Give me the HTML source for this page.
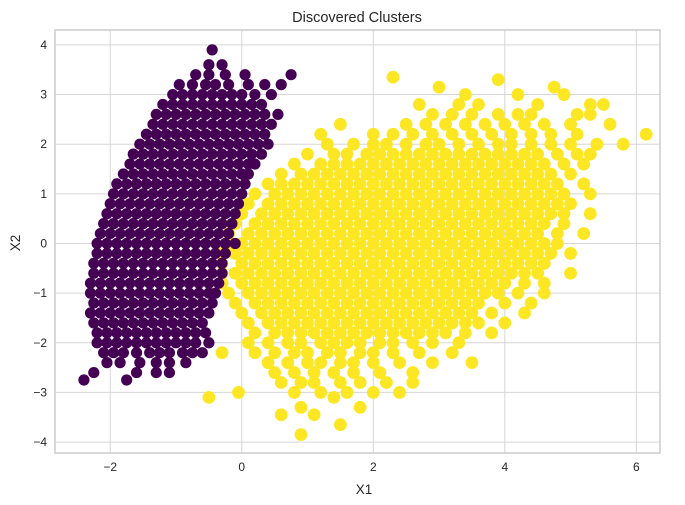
<!DOCTYPE html>
<html><head><meta charset="utf-8"><style>
body{margin:0;background:#fff;}
svg{display:block;font-family:"Liberation Sans",sans-serif;}
</style></head><body>
<svg id="chart" width="685" height="505">
<rect x="0" y="0" width="685" height="505" fill="#fff"/>
<text x="357" y="22" text-anchor="middle" font-size="14.5" fill="#262626">Discovered Clusters</text>
<text x="364" y="494" text-anchor="middle" font-size="13.5" fill="#262626">X1</text>
<text x="20" y="243" text-anchor="middle" font-size="13.5" fill="#262626" transform="rotate(-90 20 243)">X2</text>
<g id="grid"></g><g id="ticks"></g><g id="pts"></g>
<rect x="55" y="30" width="605" height="423" fill="none" stroke="#ccc" stroke-width="1.5"/>
</svg>
<script>
const xTicks=[-2,0,2,4,6];
const yTicks=[-4,-3,-2,-1,0,1,2,3,4];
const purpleRowY=[3.9,3.6,3.4,3.2,3.0,2.8,2.6,2.4,2.2,2.0,1.8,1.6,1.4,1.2,1.0,0.8,0.6,0.4,0.2,0.0,-0.2,-0.4,-0.6,-0.8,-1.0,-1.2,-1.4,-1.6,-1.8,-2.0,-2.2,-2.4,-2.6,-2.75];
const purpleRowX=[
[-0.45],
[-0.5,-0.3],
[-0.7,-0.5,-0.25,0.05,0.75],
[-0.95,-0.75,-0.55,-0.4,-0.2,0.1,0.35,0.6],
[-1.05,-0.9,-0.75,-0.6,-0.45,-0.3,-0.15,0,0.2,0.45],
[-1.2,-1.05,-0.9,-0.75,-0.6,-0.45,-0.3,-0.15,0,0.15,0.3],
[-1.3,-1.15,-1.0,-0.85,-0.7,-0.55,-0.4,-0.25,-0.1,0.05,0.2,0.35,0.55],
[-1.35,-1.2,-1.05,-0.9,-0.75,-0.6,-0.45,-0.3,-0.15,0,0.15,0.3,0.45],
[-1.45,-1.3,-1.15,-1.0,-0.85,-0.7,-0.55,-0.4,-0.25,-0.1,0.05,0.2,0.35],
[-1.55,-1.4,-1.25,-1.1,-0.95,-0.8,-0.65,-0.5,-0.35,-0.2,-0.05,0.1,0.25,0.4],
[-1.65,-1.5,-1.35,-1.2,-1.05,-0.9,-0.75,-0.6,-0.45,-0.3,-0.15,0,0.15,0.3],
[-1.7,-1.55,-1.4,-1.25,-1.1,-0.95,-0.8,-0.65,-0.5,-0.35,-0.2,-0.05,0.1,0.2],
[-1.8,-1.65,-1.5,-1.35,-1.2,-1.05,-0.9,-0.75,-0.6,-0.45,-0.3,-0.15,0,0.1],
[-1.9,-1.75,-1.6,-1.45,-1.3,-1.15,-1.0,-0.85,-0.7,-0.55,-0.4,-0.25,-0.1,0.05],
[-1.95,-1.8,-1.65,-1.5,-1.35,-1.2,-1.05,-0.9,-0.75,-0.6,-0.45,-0.3,-0.15,0],
[-2.0,-1.85,-1.7,-1.55,-1.4,-1.25,-1.1,-0.95,-0.8,-0.65,-0.5,-0.35,-0.2,-0.05],
[-2.05,-1.9,-1.75,-1.6,-1.45,-1.3,-1.15,-1.0,-0.85,-0.7,-0.55,-0.4,-0.25,-0.1],
[-2.1,-1.95,-1.8,-1.65,-1.5,-1.35,-1.2,-1.05,-0.9,-0.75,-0.6,-0.45,-0.3,-0.15],
[-2.15,-2.0,-1.85,-1.7,-1.55,-1.4,-1.25,-1.1,-0.95,-0.8,-0.65,-0.5,-0.35,-0.2],
[-2.2,-2.05,-1.9,-1.75,-1.6,-1.45,-1.3,-1.15,-1.0,-0.85,-0.7,-0.55,-0.4,-0.25,-0.1],
[-2.2,-2.05,-1.9,-1.75,-1.6,-1.45,-1.3,-1.15,-1.0,-0.85,-0.7,-0.55,-0.4,-0.25],
[-2.25,-2.1,-1.95,-1.8,-1.65,-1.5,-1.35,-1.2,-1.05,-0.9,-0.75,-0.6,-0.45,-0.3],
[-2.25,-2.1,-1.95,-1.8,-1.65,-1.5,-1.35,-1.2,-1.05,-0.9,-0.75,-0.6,-0.45,-0.3],
[-2.3,-2.15,-2.0,-1.85,-1.7,-1.55,-1.4,-1.25,-1.1,-0.95,-0.8,-0.65,-0.5,-0.35],
[-2.3,-2.15,-2.0,-1.85,-1.7,-1.55,-1.4,-1.25,-1.1,-0.95,-0.8,-0.65,-0.5,-0.4],
[-2.25,-2.1,-1.95,-1.8,-1.65,-1.5,-1.35,-1.2,-1.05,-0.9,-0.75,-0.6,-0.45],
[-2.3,-2.15,-2.0,-1.85,-1.7,-1.55,-1.4,-1.25,-1.1,-0.95,-0.8,-0.65,-0.5],
[-2.25,-2.1,-1.95,-1.8,-1.65,-1.5,-1.35,-1.2,-1.05,-0.9,-0.75,-0.6],
[-2.2,-2.05,-1.9,-1.75,-1.6,-1.45,-1.3,-1.15,-1.0,-0.85,-0.7,-0.55],
[-2.2,-2.05,-1.9,-1.75,-1.6,-1.45,-1.3,-1.15,-1.0,-0.85,-0.7,-0.5],
[-2.1,-1.95,-1.8,-1.6,-1.4,-1.25,-1.1,-0.9,-0.75,-0.6],
[-2.05,-1.85,-1.55,-1.3,-1.1,-0.85],
[-2.25,-1.6,-1.3,-1.1],
[-2.4,-1.75]
];
const yellowRowY=[3.35,3.3,3.15,3.0,2.8,2.6,2.4,2.2,2.0,1.8,1.6,1.4,1.2,1.0,0.8,0.6,0.4,0.2,0.0,-0.2,-0.4,-0.6,-0.8,-1.0,-1.2,-1.4,-1.6,-1.8,-2.0,-2.2,-2.4,-2.6,-2.8,-3.0,-3.1,-3.3,-3.45,-3.65,-3.85];
const yellowRowX=[
[2.3],
[3.9],
[3.0,4.75],
[3.4,4.2,4.9],
[2.7,3.3,3.6,4.5,5.3,5.5],
[2.9,3.2,3.5,3.9,4.2,4.4,5.1,5.3],
[1.5,2.5,2.8,3.1,3.4,3.7,4.0,4.3,4.6,5.0,5.6],
[1.2,2.0,2.3,2.6,2.9,3.2,3.5,3.8,4.1,4.4,4.7,5.1,6.15],
[1.3,1.7,2.0,2.2,2.5,2.8,3.0,3.3,3.6,3.9,4.1,4.4,4.7,5.0,5.4,5.8],
[1.0,1.4,1.6,1.9,2.1,2.3,2.5,2.7,2.9,3.1,3.3,3.5,3.7,3.9,4.1,4.3,4.5,4.8,5.1,5.3],
[0.8,1.2,1.4,1.6,1.8,2.0,2.2,2.4,2.6,2.8,3.0,3.2,3.4,3.6,3.8,4.0,4.2,4.4,4.6,4.9,5.2],
[0.6,0.9,1.1,1.3,1.5,1.7,1.9,2.1,2.3,2.5,2.7,2.9,3.1,3.3,3.5,3.7,3.9,4.1,4.3,4.5,4.7,5.0],
[0.4,0.6,0.8,1.0,1.2,1.4,1.6,1.8,2.0,2.2,2.4,2.6,2.8,3.0,3.2,3.4,3.6,3.8,4.0,4.2,4.4,4.6,4.8,5.2],
[0.2,0.5,0.7,0.9,1.1,1.3,1.5,1.7,1.9,2.1,2.3,2.5,2.7,2.9,3.1,3.3,3.5,3.7,3.9,4.1,4.3,4.5,4.7,4.9,5.3],
[0.1,0.4,0.6,0.8,1.0,1.2,1.4,1.6,1.8,2.0,2.2,2.4,2.6,2.8,3.0,3.2,3.4,3.6,3.8,4.0,4.2,4.4,4.6,4.8,5.0],
[0.0,0.3,0.5,0.7,0.9,1.1,1.3,1.5,1.7,1.9,2.1,2.3,2.5,2.7,2.9,3.1,3.3,3.5,3.7,3.9,4.1,4.3,4.5,4.7,4.9,5.3],
[-0.1,0.2,0.4,0.6,0.8,1.0,1.2,1.4,1.6,1.8,2.0,2.2,2.4,2.6,2.8,3.0,3.2,3.4,3.6,3.8,4.0,4.2,4.4,4.6,4.9],
[-0.2,0.1,0.3,0.5,0.7,0.9,1.1,1.3,1.5,1.7,1.9,2.1,2.3,2.5,2.7,2.9,3.1,3.3,3.5,3.7,3.9,4.1,4.3,4.5,4.8,5.2],
[-0.2,0.0,0.2,0.4,0.6,0.8,1.0,1.2,1.4,1.6,1.8,2.0,2.2,2.4,2.6,2.8,3.0,3.2,3.4,3.6,3.8,4.0,4.2,4.4,4.6,4.8],
[-0.3,-0.1,0.1,0.3,0.5,0.7,0.9,1.1,1.3,1.5,1.7,1.9,2.1,2.3,2.5,2.7,2.9,3.1,3.3,3.5,3.7,3.9,4.1,4.3,4.5,4.7,5.0],
[-0.3,0.0,0.2,0.4,0.6,0.8,1.0,1.2,1.4,1.6,1.8,2.0,2.2,2.4,2.6,2.8,3.0,3.2,3.4,3.6,3.8,4.0,4.2,4.4,4.6],
[-0.3,-0.1,0.1,0.3,0.5,0.7,0.9,1.1,1.3,1.5,1.7,1.9,2.1,2.3,2.5,2.7,2.9,3.1,3.3,3.5,3.7,3.9,4.1,4.3,4.5,5.0],
[-0.3,0.0,0.2,0.4,0.6,0.8,1.0,1.2,1.4,1.6,1.8,2.0,2.2,2.4,2.6,2.8,3.0,3.2,3.4,3.6,3.8,4.0,4.3,4.6],
[-0.2,0.1,0.3,0.5,0.7,0.9,1.1,1.3,1.5,1.7,1.9,2.1,2.3,2.5,2.7,2.9,3.1,3.3,3.5,3.7,3.9,4.2,4.6],
[-0.1,0.2,0.4,0.6,0.8,1.0,1.2,1.4,1.6,1.8,2.0,2.2,2.4,2.6,2.8,3.0,3.2,3.4,3.6,4.0,4.4],
[0.0,0.3,0.5,0.7,0.9,1.1,1.3,1.5,1.7,1.9,2.1,2.3,2.5,2.7,2.9,3.1,3.3,3.5,3.8,4.3],
[0.1,0.4,0.6,0.8,1.0,1.2,1.4,1.6,1.8,2.0,2.2,2.4,2.6,2.8,3.0,3.2,3.4,3.6,4.0],
[0.2,0.5,0.7,0.9,1.1,1.3,1.5,1.7,1.9,2.1,2.3,2.5,2.7,2.9,3.1,3.4,3.8],
[0.1,0.4,0.7,0.9,1.2,1.4,1.6,1.8,2.1,2.3,2.6,2.9,3.3],
[-0.3,0.2,0.5,0.8,1.0,1.3,1.5,1.8,2.0,2.3,2.7,3.2],
[0.4,0.7,1.0,1.2,1.5,1.7,2.0,2.4,2.9,3.5],
[0.5,0.8,1.1,1.4,1.7,2.1,2.6],
[0.6,0.9,1.1,1.5,1.8,2.2,2.6],
[-0.05,0.8,1.2,1.6,2.0,2.4],
[-0.5,1.4],
[0.9,1.8],
[0.6,1.1],
[1.5],
[0.9]
];
const NS='http://www.w3.org/2000/svg';
const L=55,R=660,T=30,B=453;
const xMin=-2.84,xMax=6.36,yMin=-4.22,yMax=4.3;
function sx(v){return L+(v-xMin)/(xMax-xMin)*(R-L);}
function sy(v){return B-(v-yMin)/(yMax-yMin)*(B-T);}
function mk(tag,attrs,parent){const e=document.createElementNS(NS,tag);for(const k in attrs)e.setAttribute(k,attrs[k]);parent.appendChild(e);return e;}
const grid=document.getElementById('grid'),ticks=document.getElementById('ticks'),pts=document.getElementById('pts');
xTicks.forEach(t=>{
  const l=mk('line',{x1:sx(t),x2:sx(t),y1:T,y2:B,stroke:'#d6d6d6','stroke-width':1},grid);
  
  
  const s=mk('text',{x:sx(t),y:B+18,'text-anchor':'middle','font-size':12,fill:'#262626'},ticks);
  s.textContent=t<0?'\u2212'+Math.abs(t):String(t);
  
  
});
yTicks.forEach(t=>{
  const l=mk('line',{x1:L,x2:R,y1:sy(t),y2:sy(t),stroke:'#d6d6d6','stroke-width':1},grid);
  
  
  const s=mk('text',{x:L-8,y:sy(t)+4,'text-anchor':'end','font-size':12,fill:'#262626'},ticks);
  s.textContent=t<0?'\u2212'+Math.abs(t):String(t);
  
  
});
function drawCluster(rowsY,rowsX,color,name,r){
  rowsY.forEach((y,i)=>{
    rowsX[i].forEach(x=>{
      const c=mk('circle',{cx:sx(x),cy:sy(y),r:r,fill:color},pts);
      
      
    });
  });
}
drawCluster(yellowRowY,yellowRowX,'#fde725','cluster-1-point',6.4);
drawCluster(purpleRowY,purpleRowX,'#440154','cluster-0-point',5.6);
</script>
</body></html>
